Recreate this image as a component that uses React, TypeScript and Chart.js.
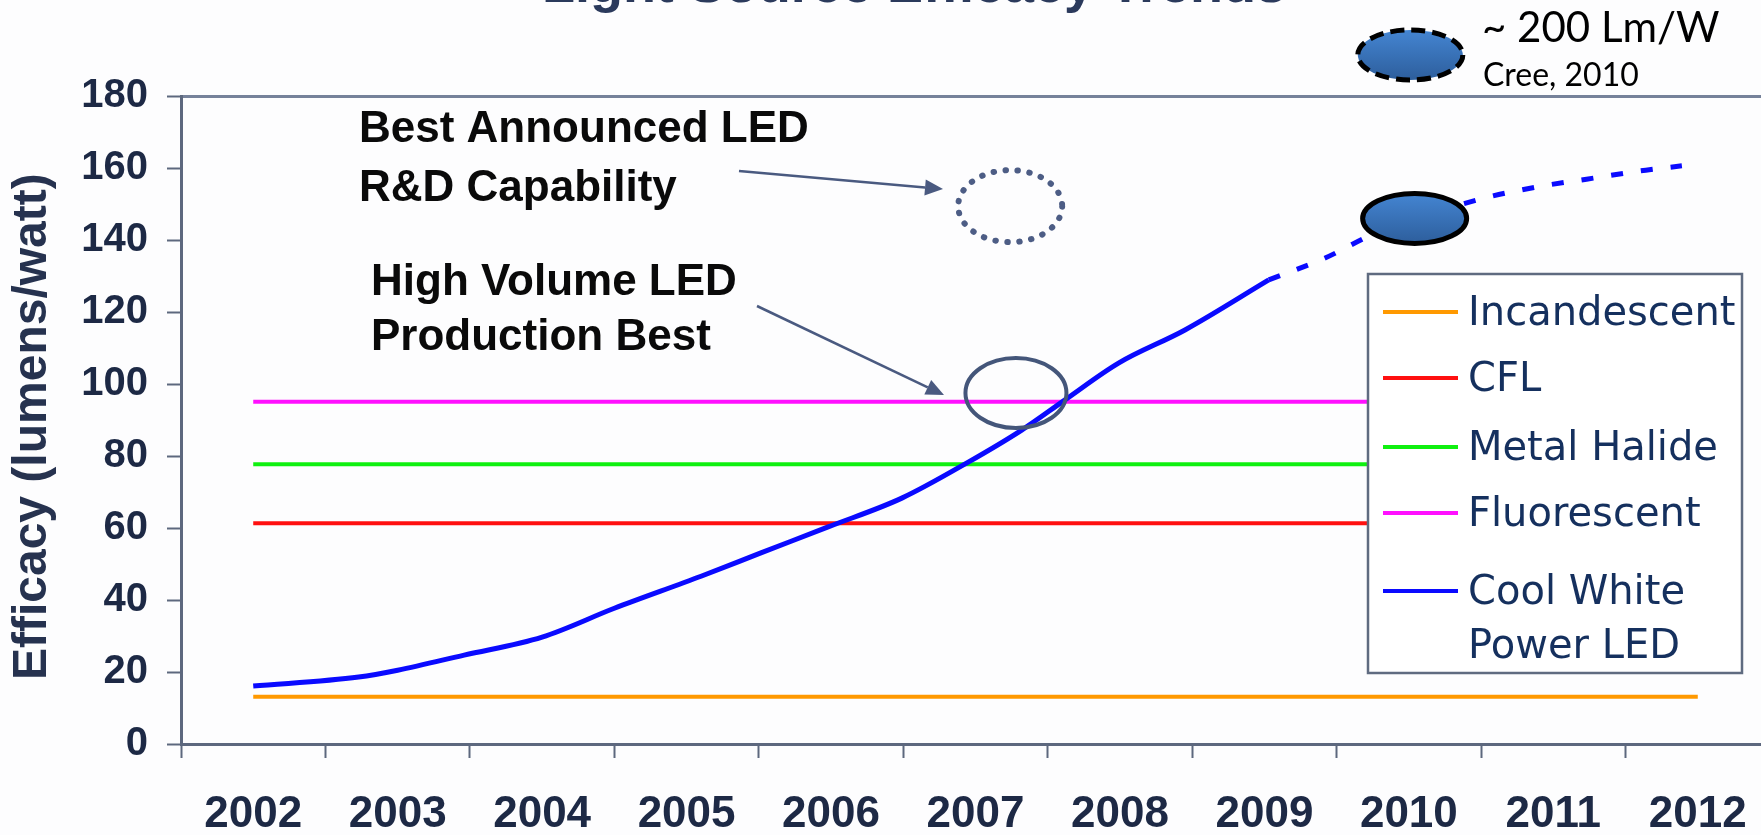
import React, { useEffect, useRef } from 'react';
import { Chart, registerables } from 'chart.js';

Chart.register(...registerables);

// ---- data ----
const yearLabels = [2002, 2003, 2004, 2005, 2006, 2007, 2008, 2009, 2010, 2011, 2012];
const efficacyTicks = [0, 20, 40, 60, 80, 100, 120, 140, 160, 180];

// conventional sources: flat efficacy across the period
const lampYears = [2002, 2012];
const incandescentValues = [13.1, 13.1];
const cflValues = [61.3, 61.3];
const metalHalideValues = [77.7, 77.7];
const fluorescentValues = [95.1, 95.1];

// cool white power LED, measured
const ledYears = [2002.0, 2002.73, 2003.0, 2003.46, 2004.0, 2004.5, 2005.1, 2005.51, 2005.98, 2006.49, 2006.95, 2007.32, 2007.62, 2007.99, 2008.45, 2009.03];
const ledValues = [16.1, 18.6, 20.5, 24.7, 29.7, 37.7, 46.6, 53.0, 60.3, 68.3, 78.3, 87.2, 95.6, 105.8, 115.0, 128.9];

// cool white power LED, projected
const ledProjYears = [2009.03, 2009.42, 2009.77, 2010.47, 2010.88, 2011.23, 2011.64, 2011.89];
const ledProjValues = [128.9, 135.0, 141.9, 151.1, 154.7, 156.9, 159.4, 160.6];

const legendLabels = [['Incandescent'], ['CFL'], ['Metal Halide'], ['Fluorescent'], ['Cool White', 'Power LED']];

// ---- styles ----
const ORANGE = '#ff9900';
const RED = '#ff1010';
const GREEN = '#10f010';
const MAGENTA = '#ff10ff';
const BLUE = '#0a0aff';
const AXIS = '#5d687e';
const TOPLINE = '#76829a';
const LABEL = '#1d2945';
const ARROW = '#4a5a80';
const SANS = '"Liberation Sans", Arial, sans-serif';

const pairs = (xs: number[], ys: number[]) => xs.map((x, i) => ({ x, y: ys[i] }));
const isYear = (v: number) => Math.abs(v - Math.round(v)) < 1e-6;

// callouts anchored in data space (year, efficacy); radii in px
const callouts = [
  { year: 2007.24, value: 149.4, rx: 52, ry: 36, kind: 'dotted' },
  { year: 2007.28, value: 97.5, rx: 50.5, ry: 35, kind: 'outline' },
  { year: 2010.04, value: 146.0, rx: 52, ry: 25, kind: 'filled' },
  { year: 2010.01, value: 191.4, rx: 52.5, ry: 25, kind: 'filledDashed' },
];

function ellipsePath(ctx: CanvasRenderingContext2D, cx: number, cy: number, rx: number, ry: number) {
  ctx.beginPath();
  ctx.ellipse(cx, cy, rx, ry, 0, 0, Math.PI * 2);
}

function blueFill(ctx: CanvasRenderingContext2D, cy: number, ry: number) {
  const g = ctx.createLinearGradient(0, cy - ry, 0, cy + ry);
  g.addColorStop(0, '#4485d2');
  g.addColorStop(1, '#2d5e9c');
  return g;
}

function arrow(ctx: CanvasRenderingContext2D, x1: number, y1: number, x2: number, y2: number) {
  const a = Math.atan2(y2 - y1, x2 - x1);
  const head = 18;
  const half = 8;
  const bx = x2 - head * Math.cos(a);
  const by = y2 - head * Math.sin(a);
  ctx.strokeStyle = ARROW;
  ctx.fillStyle = ARROW;
  ctx.lineWidth = 2.5;
  ctx.beginPath();
  ctx.moveTo(x1, y1);
  ctx.lineTo(bx, by);
  ctx.stroke();
  ctx.beginPath();
  ctx.moveTo(x2, y2);
  ctx.lineTo(bx - half * Math.sin(a), by + half * Math.cos(a));
  ctx.lineTo(bx + half * Math.sin(a), by - half * Math.cos(a));
  ctx.closePath();
  ctx.fill();
}

const overlay = {
  id: 'overlay',
  beforeDraw(chart: any) {
    const { ctx, width, height } = chart;
    ctx.save();
    ctx.fillStyle = '#fdfdfe';
    ctx.fillRect(0, 0, width, height);
    ctx.restore();
  },
  afterDatasetsDraw(chart: any) {
    const { ctx } = chart;
    const xs = chart.scales.x;
    const ys = chart.scales.y;
    ctx.save();

    // heading (mostly above the visible frame)
    ctx.fillStyle = '#2b3a5c';
    ctx.font = `bold 54px ${SANS}`;
    ctx.textAlign = 'center';
    ctx.textBaseline = 'alphabetic';
    ctx.fillText('Light Source Efficacy Trends', 914, 2);

    // callout ellipses
    for (const c of callouts) {
      const cx = xs.getPixelForValue(c.year);
      const cy = ys.getPixelForValue(c.value);
      ellipsePath(ctx, cx, cy, c.rx, c.ry);
      if (c.kind === 'dotted') {
        ctx.setLineDash([0.5, 11.5]);
        ctx.lineCap = 'round';
        ctx.lineWidth = 6;
        ctx.strokeStyle = '#4d5d85';
        ctx.stroke();
      } else if (c.kind === 'outline') {
        ctx.setLineDash([]);
        ctx.lineWidth = 4;
        ctx.strokeStyle = '#44567a';
        ctx.stroke();
      } else {
        ctx.fillStyle = blueFill(ctx, cy, c.ry);
        ctx.fill();
        ctx.setLineDash(c.kind === 'filledDashed' ? [14, 7] : []);
        ctx.lineCap = 'butt';
        ctx.lineWidth = 5;
        ctx.strokeStyle = '#000000';
        ctx.stroke();
      }
      ctx.setLineDash([]);
      ctx.lineCap = 'butt';
    }

    // callout text + arrows
    ctx.fillStyle = '#0a0a0a';
    ctx.font = `bold 44px ${SANS}`;
    ctx.textAlign = 'left';
    ctx.textBaseline = 'alphabetic';
    ctx.fillText('Best Announced LED', 359, 142);
    ctx.fillText('R&D Capability', 359, 201);
    ctx.fillText('High Volume LED', 371, 295);
    ctx.fillText('Production Best', 371, 350);
    arrow(ctx, 739, 171, 943, 189);
    arrow(ctx, 757, 306, 944, 395);

    // record note
    ctx.fillStyle = '#000000';
    ctx.font = '42px Lato, "Open Sans", sans-serif';
    ctx.fillText('~ 200 Lm/W', 1482, 42);
    ctx.font = '32px Lato, "Open Sans", sans-serif';
    ctx.fillText('Cree, 2010', 1483, 86);

    // legend box
    const lx = 1368, ly = 274, lw = 374, lh = 399;
    ctx.fillStyle = '#ffffff';
    ctx.fillRect(lx, ly, lw, lh);
    ctx.strokeStyle = '#5f6b80';
    ctx.lineWidth = 2.5;
    ctx.strokeRect(lx, ly, lw, lh);
    const rowY = [38, 104, 173, 239, 317];
    const colors = [ORANGE, RED, GREEN, MAGENTA, BLUE];
    ctx.font = '40px "DejaVu Sans", Verdana, sans-serif';
    ctx.textBaseline = 'middle';
    legendLabels.forEach((lines, i) => {
      const y = ly + rowY[i];
      ctx.strokeStyle = colors[i];
      ctx.lineWidth = 4;
      ctx.beginPath();
      ctx.moveTo(lx + 15, y);
      ctx.lineTo(lx + 90, y);
      ctx.stroke();
      ctx.fillStyle = '#15305e';
      lines.forEach((t, j) => ctx.fillText(t, lx + 100, y + 3 + j * 54));
    });

    ctx.restore();
  },
};

export default function App() {
  const ref = useRef<HTMLCanvasElement>(null);

  useEffect(() => {
    const chart = new Chart(ref.current as HTMLCanvasElement, {
      type: 'line',
      data: {
        datasets: [
          {
            label: 'Cool White Power LED',
            data: pairs(ledYears, ledValues),
            borderColor: BLUE,
            borderWidth: 5,
            cubicInterpolationMode: 'monotone',
            pointRadius: 0,
            order: 0,
          },
          {
            label: 'Cool White Power LED (projected)',
            data: pairs(ledProjYears, ledProjValues),
            borderColor: BLUE,
            borderWidth: 5,
            borderDash: [12, 18],
            cubicInterpolationMode: 'monotone',
            pointRadius: 0,
            order: 0,
          },
          { label: 'Incandescent', data: pairs(lampYears, incandescentValues), borderColor: ORANGE, borderWidth: 4, pointRadius: 0, order: 1 },
          { label: 'CFL', data: pairs(lampYears, cflValues), borderColor: RED, borderWidth: 4, pointRadius: 0, order: 1 },
          { label: 'Metal Halide', data: pairs(lampYears, metalHalideValues), borderColor: GREEN, borderWidth: 4, pointRadius: 0, order: 1 },
          { label: 'Fluorescent', data: pairs(lampYears, fluorescentValues), borderColor: MAGENTA, borderWidth: 4, pointRadius: 0, order: 1 },
        ],
      },
      options: {
        responsive: false,
        animation: false,
        devicePixelRatio: 1,
        events: [],
        layout: { padding: { top: 96, right: 30, left: 0, bottom: 0 } },
        plugins: { legend: { display: false }, tooltip: { enabled: false } },
        scales: {
          x: {
            type: 'linear',
            min: yearLabels[0] - 0.5,
            max: yearLabels[yearLabels.length - 1] + 0.5,
            afterFit: (s: any) => { s.height = 91; },
            border: { color: AXIS, width: 3 },
            grid: {
              drawOnChartArea: false,
              tickLength: 14,
              tickWidth: 2,
              tickColor: (c: any) => (c.tick && isYear(c.tick.value) ? 'rgba(0,0,0,0)' : AXIS),
            },
            ticks: {
              stepSize: 0.5,
              maxTicksLimit: 40,
              autoSkip: false,
              maxRotation: 0,
              padding: 30,
              color: LABEL,
              font: { family: SANS, size: 44, weight: 'bold' },
              callback: (v: any) => (isYear(Number(v)) && yearLabels.includes(Math.round(Number(v))) ? String(Math.round(Number(v))) : ''),
            },
          },
          y: {
            min: efficacyTicks[0],
            max: efficacyTicks[efficacyTicks.length - 1],
            afterFit: (s: any) => { s.width = 181; },
            border: { color: AXIS, width: 3 },
            grid: {
              drawOnChartArea: true,
              lineWidth: 3,
              tickWidth: 2,
              tickLength: 14,
              color: (c: any) => (c.tick && c.tick.value === efficacyTicks[efficacyTicks.length - 1] ? TOPLINE : 'rgba(0,0,0,0)'),
              tickColor: AXIS,
            },
            ticks: {
              stepSize: efficacyTicks[1] - efficacyTicks[0],
              padding: 19,
              color: LABEL,
              font: { family: SANS, size: 40, weight: 'bold' },
            },
            title: {
              display: true,
              text: 'Efficacy (lumens/watt) ',
              color: '#26324f',
              font: { family: SANS, size: 48, weight: 'bold' },
              padding: { top: 4, bottom: 0 },
            },
          },
        },
      },
      plugins: [overlay],
    } as any);
    return () => chart.destroy();
  }, []);

  return (
    <div style={{ position: 'fixed', left: 0, top: 0, width: 1761, height: 835, overflow: 'hidden', background: '#fdfdfe' }}>
      <canvas ref={ref} width={1800} height={835} style={{ display: 'block', width: 1800, height: 835 }} />
    </div>
  );
}
